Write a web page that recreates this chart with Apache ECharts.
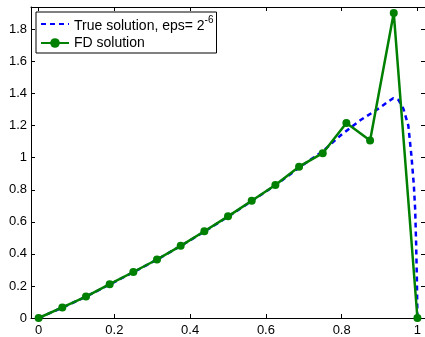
<!DOCTYPE html>
<html>
<head>
<meta charset="utf-8">
<script src="https://cdn.jsdelivr.net/npm/echarts@6/dist/echarts.min.js"></script>
<style>html,body{margin:0;padding:0;background:#fff}#c{width:425px;height:337px}</style>
</head>
<body>
<div id="c"></div>
<script>
// FD solution (N = 16)
var fdX = [0, 0.0625, 0.125, 0.1875, 0.25, 0.3125, 0.375, 0.4375, 0.5, 0.5625, 0.625, 0.6875, 0.75, 0.8125, 0.875, 0.9375, 1];
var fdY = [0, 0.066, 0.134, 0.211, 0.287, 0.365, 0.45, 0.541, 0.634, 0.731, 0.830, 0.944, 1.028, 1.216, 1.107, 1.903, 0];
// True solution, eps = 2^-6
var trueX = [0, 0.0625, 0.125, 0.1875, 0.25, 0.3125, 0.375, 0.4375, 0.5, 0.5625, 0.625, 0.6875, 0.75, 0.8, 0.85, 0.9, 0.92, 0.936, 0.95, 0.963, 0.976, 0.984, 0.9905, 0.994, 0.9965, 0.9985, 1];
var trueY = [0, 0.065, 0.133, 0.209, 0.286, 0.364, 0.449, 0.539, 0.632, 0.729, 0.828, 0.938, 1.04, 1.145, 1.235, 1.31, 1.345, 1.371, 1.36, 1.305, 1.20, 1.016, 0.83, 0.68, 0.47, 0.25, 0];
var xTicks = [0, 0.2, 0.4, 0.6, 0.8, 1];
var yTicks = [0, 0.2, 0.4, 0.6, 0.8, 1, 1.2, 1.4, 1.6, 1.8];
var legendNames = ['True solution, eps= 2', 'FD solution'];
var legendSup = '-6';

function zip(a, b) { return a.map(function (v, i) { return [v, b[i]]; }); }
function fmt(v) { return String(Math.round(v * 10) / 10); }

var FONT = 'Liberation Sans, Arial, Helvetica, sans-serif';
var axisCommon = {
  type: 'value',
  axisLine: { show: true, onZero: false, lineStyle: { color: '#000', width: 1 } },
  splitLine: { show: false }
};

var chart = echarts.init(document.getElementById('c'), null, { renderer: 'canvas' });
chart.setOption({
  animation: false,
  backgroundColor: '#fff',
  grid: { left: 31, top: 7, right: -2, bottom: 16 },
  xAxis: [
    Object.assign({}, axisCommon, {
      min: -0.0202, max: 1.020, position: 'bottom',
      axisTick: { show: true, inside: true, length: 4, customValues: xTicks, lineStyle: { color: '#000' } },
      axisLabel: { show: true, customValues: xTicks, formatter: fmt, color: '#000', fontSize: 13, fontFamily: FONT, margin: 6 }
    }),
    Object.assign({}, axisCommon, {
      min: -0.0202, max: 1.020, position: 'top',
      axisTick: { show: true, inside: true, length: 4, customValues: xTicks, lineStyle: { color: '#000' } },
      axisLabel: { show: false }
    })
  ],
  yAxis: [
    Object.assign({}, axisCommon, {
      min: 0, max: 1.94, position: 'left',
      axisTick: { show: true, inside: true, length: 4, customValues: yTicks, lineStyle: { color: '#000' } },
      axisLabel: { show: true, customValues: yTicks, formatter: fmt, color: '#000', fontSize: 13, fontFamily: FONT, margin: 4 }
    }),
    Object.assign({}, axisCommon, {
      min: 0, max: 1.94, position: 'right',
      axisTick: { show: true, inside: true, length: 4, customValues: yTicks, lineStyle: { color: '#000' } },
      axisLabel: { show: false }
    })
  ],
  legend: {
    left: 36, top: 12, orient: 'vertical',
    data: [
      { name: legendNames[0], itemStyle: { color: 'rgba(0,0,0,0)', borderWidth: 0, opacity: 0 } },
      { name: legendNames[1] }
    ],
    backgroundColor: '#fff', borderColor: '#000', borderWidth: 1, borderRadius: 0,
    padding: [3, 3, 3, 4], itemGap: 3, itemWidth: 28, itemHeight: 12,
    selectedMode: false,
    formatter: function (name) {
      return name === legendNames[0] ? '{t|' + name + '}{s|' + legendSup + '}' : '{t|' + name + '}';
    },
    textStyle: {
      color: '#000', fontSize: 14, fontFamily: FONT,
      rich: {
        t: { fontSize: 14, fontFamily: FONT, color: '#000', verticalAlign: 'bottom' },
        s: { fontSize: 10, fontFamily: FONT, color: '#000', verticalAlign: 'top', padding: [0, 0, 8, 0] }
      }
    }
  },
  series: [
    {
      name: legendNames[0], type: 'line', xAxisIndex: 0, yAxisIndex: 0,
      data: zip(trueX, trueY), showSymbol: false, symbol: 'none',
      lineStyle: { color: '#0000ff', width: 2.5, type: [5, 4] },
      itemStyle: { color: '#0000ff' }, z: 2
    },
    {
      name: legendNames[1], type: 'line', xAxisIndex: 0, yAxisIndex: 0,
      data: zip(fdX, fdY), symbol: 'circle', symbolSize: 8,
      lineStyle: { color: '#008000', width: 2.5 },
      itemStyle: { color: '#008000' }, z: 3
    }
  ]
});
</script>
</body>
</html>
